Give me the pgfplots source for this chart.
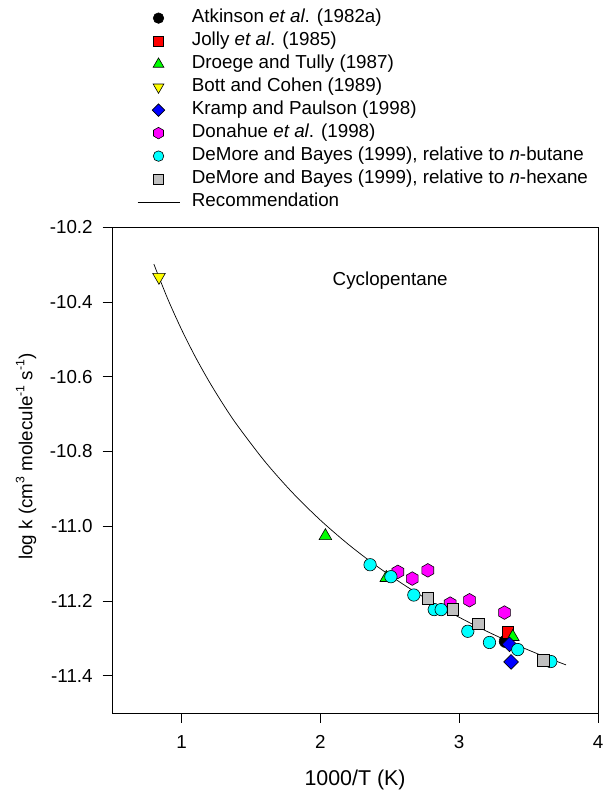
\documentclass[border=0pt]{standalone}
\usepackage{fontspec}
\setmainfont{Liberation Sans}
\usepackage{pgfplots}
\pgfplotsset{compat=1.18}
\pgfdeclareplotmark{hexagon}{%
  \pgfpathmoveto{\pgfqpoint{0pt}{\pgfplotmarksize}}%
  \pgfpathlineto{\pgfqpoint{-0.866\pgfplotmarksize}{0.5\pgfplotmarksize}}%
  \pgfpathlineto{\pgfqpoint{-0.866\pgfplotmarksize}{-0.5\pgfplotmarksize}}%
  \pgfpathlineto{\pgfqpoint{0pt}{-\pgfplotmarksize}}%
  \pgfpathlineto{\pgfqpoint{0.866\pgfplotmarksize}{-0.5\pgfplotmarksize}}%
  \pgfpathlineto{\pgfqpoint{0.866\pgfplotmarksize}{0.5\pgfplotmarksize}}%
  \pgfpathclose
  \pgfusepathqfillstroke}
\definecolor{mygrey}{RGB}{192,192,192}
\definecolor{myred}{RGB}{255,0,0}
\definecolor{mygreen}{RGB}{0,255,0}
\definecolor{myyellow}{RGB}{255,255,0}
\definecolor{myblue}{RGB}{0,0,255}
\definecolor{mymagenta}{RGB}{255,0,255}
\definecolor{mycyan}{RGB}{0,255,255}
\newcommand{\supx}[1]{\raisebox{0.42em}{\fontsize{12.2}{12.2}\selectfont #1}}
\begin{document}
\begin{tikzpicture}[font=\fontsize{18.8}{22.6}\selectfont]
\path[use as bounding box] (-112.2pt,-76.9pt) rectangle (493.8pt,713.1pt);
\begin{axis}[
  at={(0pt,0pt)}, anchor=south west,
  scale only axis, width=485.8pt, height=485.8pt,
  xmin=0.5, xmax=4, ymin=-11.5, ymax=-10.2,
  xtick={1,2,3,4}, xticklabels={1,2,3,4},
  ytick={-11.4,-11.2,-11.0,-10.8,-10.6,-10.4,-10.2},
  yticklabels={-11.4,-11.2,-11.0,-10.8,-10.6,-10.4,-10.2},
  tick pos=left, tick align=outside, major tick length=9.5pt,
  tick style={black, line width=0.8pt},
  axis line style={line width=0.8pt},
  xticklabel style={yshift=-9.5pt},
  yticklabel style={xshift=-6.5pt},
  xlabel={1000/T (K)},
  ylabel={log k (cm\supx{3} molecule\supx{-1} s\supx{-1})},
  xlabel style={at={(axis description cs:0.5,0)}, anchor=base, yshift=-71.9pt,
    font=\fontsize{21.4}{25}\selectfont},
  ylabel style={at={(axis description cs:-0.1774,0.528)}, anchor=center},
  legend style={at={(axis description cs:0.051,1.449)}, anchor=north west,
    draw=none, fill=none, inner sep=0pt, row sep=5.5pt,
    nodes={inner sep=0pt, text height=13.5pt, text depth=4pt},
    /tikz/every odd column/.append style={column sep=12pt}},
  legend cell align=left,
  legend image code/.code={\path[draw=none,fill=none] (0pt,-4pt) rectangle (42pt,4pt);
    \begin{scope}[every mark/.append style={scale=0.85}]
    \draw[mark repeat=2,mark phase=2,#1] plot coordinates {(0pt,0pt) (21pt,0pt) (42pt,0pt)};
    \end{scope}},
]
\addplot[only marks, mark=*, mark size=6.2pt, mark options={draw=black, fill=black, line width=0.6pt}]
  coordinates {(3.333,-11.308)};
\addlegendentry{Atkinson \textit{et al}. (1982a)}
\addplot[only marks, mark=square*, mark size=5.6pt, mark options={draw=black, fill=myred, line width=0.6pt}]
  coordinates {(3.350,-11.284)};
\addlegendentry{Jolly \textit{et al}. (1985)}
\addplot[only marks, mark=triangle*, mark size=7.3pt, mark options={draw=black, fill=mygreen, line width=0.6pt}]
  coordinates {(2.036,-11.026) (2.475,-11.138) (3.386,-11.296)};
\addlegendentry{Droege and Tully (1987)}
\addplot[only marks, mark=triangle*, mark size=7.3pt, mark options={draw=black, fill=myyellow, line width=0.6pt, rotate=180}]
  coordinates {(0.837,-10.333)};
\addlegendentry{Bott and Cohen (1989)}
\addplot[only marks, mark=square*, mark size=5.2pt, mark options={draw=black, fill=myblue, line width=0.6pt, rotate=45}]
  coordinates {(3.362,-11.316) (3.374,-11.363)};
\addlegendentry{Kramp and Paulson (1998)}
\addplot[only marks, mark=hexagon, mark size=6.8pt, mark options={draw=black, fill=mymagenta, line width=0.6pt}]
  coordinates {(2.558,-11.122) (2.662,-11.140) (2.774,-11.118) (2.935,-11.207) (3.074,-11.198) (3.326,-11.231)};
\addlegendentry{Donahue \textit{et al}. (1998)}
\addplot[only marks, mark=*, mark size=6.2pt, mark options={draw=black, fill=mycyan, line width=0.6pt}]
  coordinates {(2.358,-11.103) (2.508,-11.135) (2.673,-11.184) (2.820,-11.223) (2.870,-11.223)
               (3.062,-11.281) (3.218,-11.311) (3.422,-11.330) (3.660,-11.362)};
\addlegendentry{DeMore and Bayes (1999), relative to \textit{n}-butane}
\addplot[only marks, mark=square*, mark size=5.8pt, mark options={draw=black, fill=mygrey, line width=0.6pt}]
  coordinates {(2.774,-11.193) (2.954,-11.223) (3.139,-11.261) (3.605,-11.358)};
\addlegendentry{DeMore and Bayes (1999), relative to \textit{n}-hexane}
\addplot[black, line width=0.7pt, smooth, no marks] coordinates {
  (0.80,-10.2984) (0.90,-10.3915) (1.00,-10.4738) (1.10,-10.5474) (1.20,-10.6137)
  (1.30,-10.6740) (1.40,-10.7292) (1.60,-10.8267) (1.80,-10.9106) (2.00,-10.9837)
  (2.20,-11.0480) (2.40,-11.1051) (2.60,-11.1562) (2.80,-11.2022) (3.00,-11.2436)
  (3.20,-11.2813) (3.40,-11.3155) (3.60,-11.3467) (3.77,-11.3711)};
\addlegendentry{Recommendation}
\node[anchor=base] at (axis cs:2.503,-10.357) {Cyclopentane};
\end{axis}
\end{tikzpicture}
\end{document}
